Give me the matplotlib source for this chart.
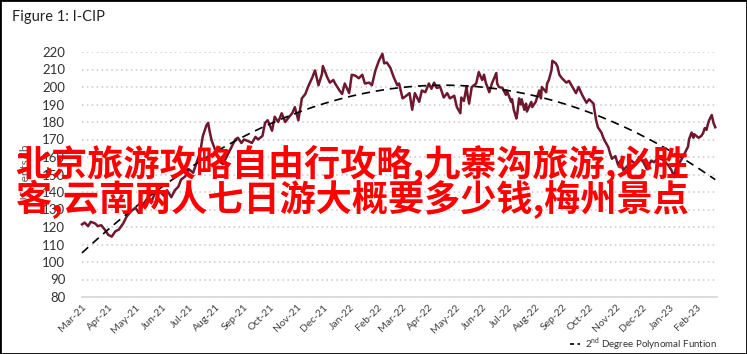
import numpy as np
import pandas as pd
import matplotlib
matplotlib.use("Agg")
import matplotlib.pyplot as plt
import matplotlib.dates as mdates
from matplotlib.patches import Rectangle
from matplotlib.lines import Line2D

plt.rcParams['font.family'] = ['Lato', 'DejaVu Sans']
plt.rcParams['mathtext.fontset'] = 'custom'
plt.rcParams['mathtext.rm'] = 'Lato'

# ---- data ----
start_date = "2021-03-01"
days = [0, 3, 7, 10, 15, 18, 22, 26, 30, 34, 38, 42, 47, 51, 56, 61, 65, 70, 74, 79,
        83, 88, 93, 97, 102, 106, 110, 113, 118, 122, 127, 131, 135, 138, 142, 144, 146, 148, 152, 155,
        158, 161, 164, 167, 171, 175, 178, 182, 185, 190, 194, 198, 201, 206, 209, 212, 217, 220, 224, 228,
        232, 235, 240, 243, 247, 251, 255, 258, 263, 266, 270, 274, 275, 280, 283, 287, 289, 294, 297, 300,
        305, 308, 312, 316, 320, 323, 328, 331, 335, 339, 343, 345, 348, 352, 356, 360, 362, 366, 369, 374,
        377, 380, 385, 388, 392, 396, 399, 402, 405, 409, 413, 417, 420, 425, 428, 432, 433, 436, 439, 440,
        442, 445, 450, 453, 456, 457, 459, 461, 465, 468, 473, 474, 476, 480, 484, 485, 490, 491, 493, 496,
        497, 499, 501, 502, 505, 507, 508, 513, 514, 518, 522, 524, 525, 530, 531, 533, 536, 537, 541, 543,
        545, 548, 553, 556, 560, 564, 567, 571, 576, 579, 584, 585, 587, 589, 593, 596, 601, 603, 605, 609,
        612, 615, 618, 623, 627, 632, 636, 641, 645, 650, 653, 658, 663, 669, 673, 676, 678, 682, 686, 690,
        692, 693, 696, 698, 699, 704, 707, 709, 711, 713, 715, 716, 719, 721, 723]
icip = [121.5, 122.5, 120.5, 123, 122, 120.5, 121, 118.5, 115.5, 114.5, 117.5, 118.5, 122, 126, 129, 131, 128, 133, 136, 134,
        139, 141, 138, 141, 137, 141, 143, 147, 149, 153, 151, 157, 163, 172, 178, 179.5, 174, 169.5, 164, 160,
        157, 156, 159, 162, 166, 170, 171, 168, 170, 169, 168, 171.5, 170, 172, 179.5, 181, 175, 183, 180, 185,
        180, 182, 185, 188.5, 181, 193.5, 196, 200, 205.5, 209.5, 201, 207.5, 212, 205.5, 202.5, 204, 202, 198, 196, 202,
        196.5, 207, 206.5, 205, 207, 202, 202.5, 201, 209.5, 215, 219, 213.5, 214, 211, 205.5, 201, 202, 193.5, 194.5, 196.5,
        187, 196.5, 191.5, 198, 197, 202, 199, 202.5, 199.5, 200, 194, 196.5, 193.5, 195, 188.5, 185, 194, 192, 200, 196,
        190.5, 200, 202, 208.5, 205, 204, 207, 202.5, 197, 202, 208, 202, 200, 199.5, 195.5, 198, 191.5, 193, 187, 182,
        185, 193.5, 190, 193, 187, 190.5, 186, 191.5, 188.5, 191.5, 198, 193.5, 200, 197, 202, 204, 209.5, 215, 213.5, 211.5,
        207, 205, 202.5, 203.5, 200, 196.5, 200, 195.5, 191, 193, 190.5, 187, 181, 177, 174, 170, 165.5, 162, 159, 160.5,
        155.5, 158, 152.5, 155, 158, 156, 160, 157, 153, 158, 157, 159.5, 158.5, 155.5, 152.5, 148.5, 153.5, 156.5, 160, 164,
        166, 170, 174, 171, 173, 171, 172, 173.5, 176.5, 175.5, 179.5, 181, 184, 179.5, 177]
# 2nd degree polynomial trend (coefficients, x = days since start)
trend_coef = [-5.617e-4, 0.464, 105.2]
month_ticks = pd.date_range("2021-03-01", "2023-02-01", freq="MS")
y_ticks = list(range(80, 221, 10))
title = "Figure 1: I-CIP"
ylabel = "US cents/lb"
legend_label = r"2$^{\mathrm{nd}}$ Degree Polynomal Funtion"
overlay_lines = ["北京旅游攻略自由行攻略,九寨沟旅游,必胜",
                 "客,云南两人七日游大概要多少钱,梅州景点"]

dates = pd.Timestamp(start_date) + pd.to_timedelta(days, unit="D")

W, H = 747, 354
fig = plt.figure(figsize=(W / 100, H / 100), dpi=100)
fig.patch.set_facecolor("white")

ax = fig.add_axes([82 / W, 1 - 297 / H, (717 - 82) / W, (297 - 52) / H])
ax.set_facecolor("white")

ax.plot(dates, icip, color="#6e1830", lw=1.8, solid_joinstyle="round", clip_on=False, zorder=3)

x = np.asarray(days, dtype=float)
trend = np.polyval(trend_coef, x)
ax.plot(dates, trend, color="black", lw=1.2, dashes=(5, 3.5), zorder=4, clip_on=False)

ax.set_ylim(80, 220)
ax.set_yticks(y_ticks)
ax.set_xlim(pd.Timestamp(start_date), pd.Timestamp(start_date) + pd.Timedelta(days=725))
ax.set_xticks(month_ticks)
ax.xaxis.set_major_formatter(mdates.DateFormatter("%b-%y"))

for s in ["top", "right", "left"]:
    ax.spines[s].set_visible(False)
ax.spines["bottom"].set_color("#d9d9d9")
ax.spines["bottom"].set_linewidth(1.3)
ax.grid(axis="y", color="#c8c8c8", linestyle=(0, (1, 2.2)), lw=1.1)
ax.grid(axis="x", visible=False)
ax.set_axisbelow(True)
ax.tick_params(axis="both", length=0)
ax.tick_params(axis="y", labelsize=9.5, labelcolor="#333333", pad=12)
ax.tick_params(axis="x", labelsize=7.5, labelcolor="#404040", pad=4)
for lab in ax.get_xticklabels():
    lab.set_rotation(45)
    lab.set_ha("right")
    lab.set_rotation_mode("anchor")

ax.set_ylabel(ylabel, fontsize=8.5, color="#595959", labelpad=8)

fig.text(12 / W, 1 - 17 / H, title, fontsize=10.5, color="#222222", va="center", ha="left")

leg_handle = Line2D([], [], color="black", lw=1.2, dashes=(2.5, 2))
fig.legend([leg_handle], [legend_label], loc="center right",
           bbox_to_anchor=(721 / W, 1 - 344 / H), frameon=False, fontsize=7,
           handlelength=1.1, handletextpad=0.5, labelcolor="#333333", borderaxespad=0)

# red overlay text
for i, line in enumerate(overlay_lines):
    yc = [165, 199][i]
    fig.text(15 / W, 1 - yc / H, line, fontsize=26, color="#ff0000", fontweight="bold",
             family=["Noto Sans CJK SC", "DejaVu Sans"], va="center", ha="left", zorder=10)

fig.patches.append(Rectangle((0, 0), 1, 1, transform=fig.transFigure, fill=False,
                             edgecolor="black", lw=2, zorder=20))

fig.savefig("out.png", dpi=100, facecolor="white")
